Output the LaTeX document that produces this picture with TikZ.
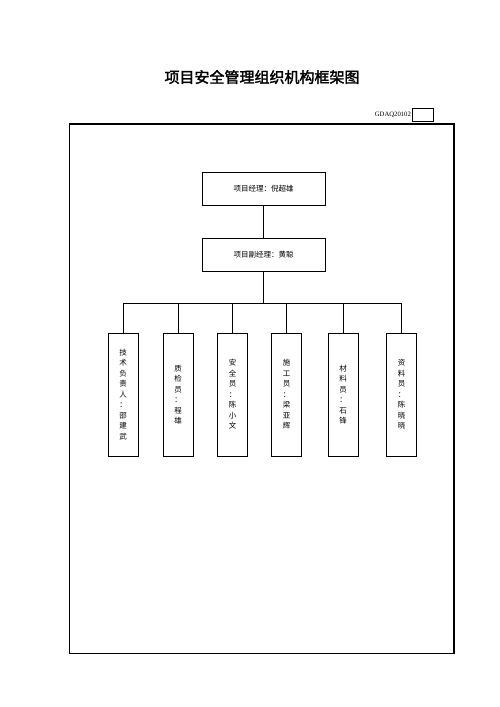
\documentclass[tikz,border=0pt]{standalone}
\usepackage{fontspec}
\newfontfamily\cjk{Noto Sans CJK SC}
\newfontfamily\cjkbold[FakeBold=2]{Noto Sans CJK SC}
\newfontfamily\lser{Liberation Serif}
\begin{document}
\begin{tikzpicture}[x=1pt,y=-1pt,
  mgr/.style={draw,line width=0.8pt,minimum width=123pt,minimum height=33pt,inner sep=0pt,font=\cjk\fontsize{7.5}{9}\selectfont},
  staff/.style={draw,line width=0.8pt,minimum width=30pt,minimum height=123pt,inner sep=0pt,align=center,font=\cjk\fontsize{7.5}{10.5}\selectfont},
  conn/.style={line width=0.7pt}]
\useasboundingbox (0,0) rectangle (500,707);
\node[font=\cjkbold\fontsize{15}{18}\selectfont] (title) at (262,77) {项目安全管理组织机构框架图};
\node[draw,line width=0.7pt,minimum width=21pt,minimum height=13pt,inner sep=0pt] (codebox) at (422.5,114.5) {};
\node[font=\lser\fontsize{6.7}{8}\selectfont,anchor=east,inner sep=0.5pt] (code) at (codebox.west) {GDAQ20102};
\draw[line width=1.4pt] (69.5,124) rectangle (454,653.5);
\node[mgr] (pm) at (263.5,189) {项目经理：倪超雄};
\node[mgr] (dpm) at (263.5,254.5) {项目副经理：黄聪};
\node[staff] (b1) at (123,394.5) {技\\术\\负\\责\\人\\：\\邵\\建\\武};
\node[staff] (b2) at (178,394.5) {质\\检\\员\\：\\程\\雄};
\node[staff] (b3) at (232.5,394.5) {安\\全\\员\\：\\陈\\小\\文};
\node[staff] (b4) at (286.5,394.5) {施\\工\\员\\：\\梁\\亚\\辉};
\node[staff] (b5) at (343,394.5) {材\\料\\员\\：\\石\\锋};
\node[staff] (b6) at (401.5,394.5) {资\\料\\员\\：\\陈\\晓\\晓};
\coordinate (bus) at (263.5,303);
\draw[conn] (pm) -- (dpm);
\draw[conn] (dpm.south) -- (bus);
\foreach \b in {b1,b2,b3,b4,b5,b6} \draw[conn] (bus) -| (\b.north);
\end{tikzpicture}
\end{document}
